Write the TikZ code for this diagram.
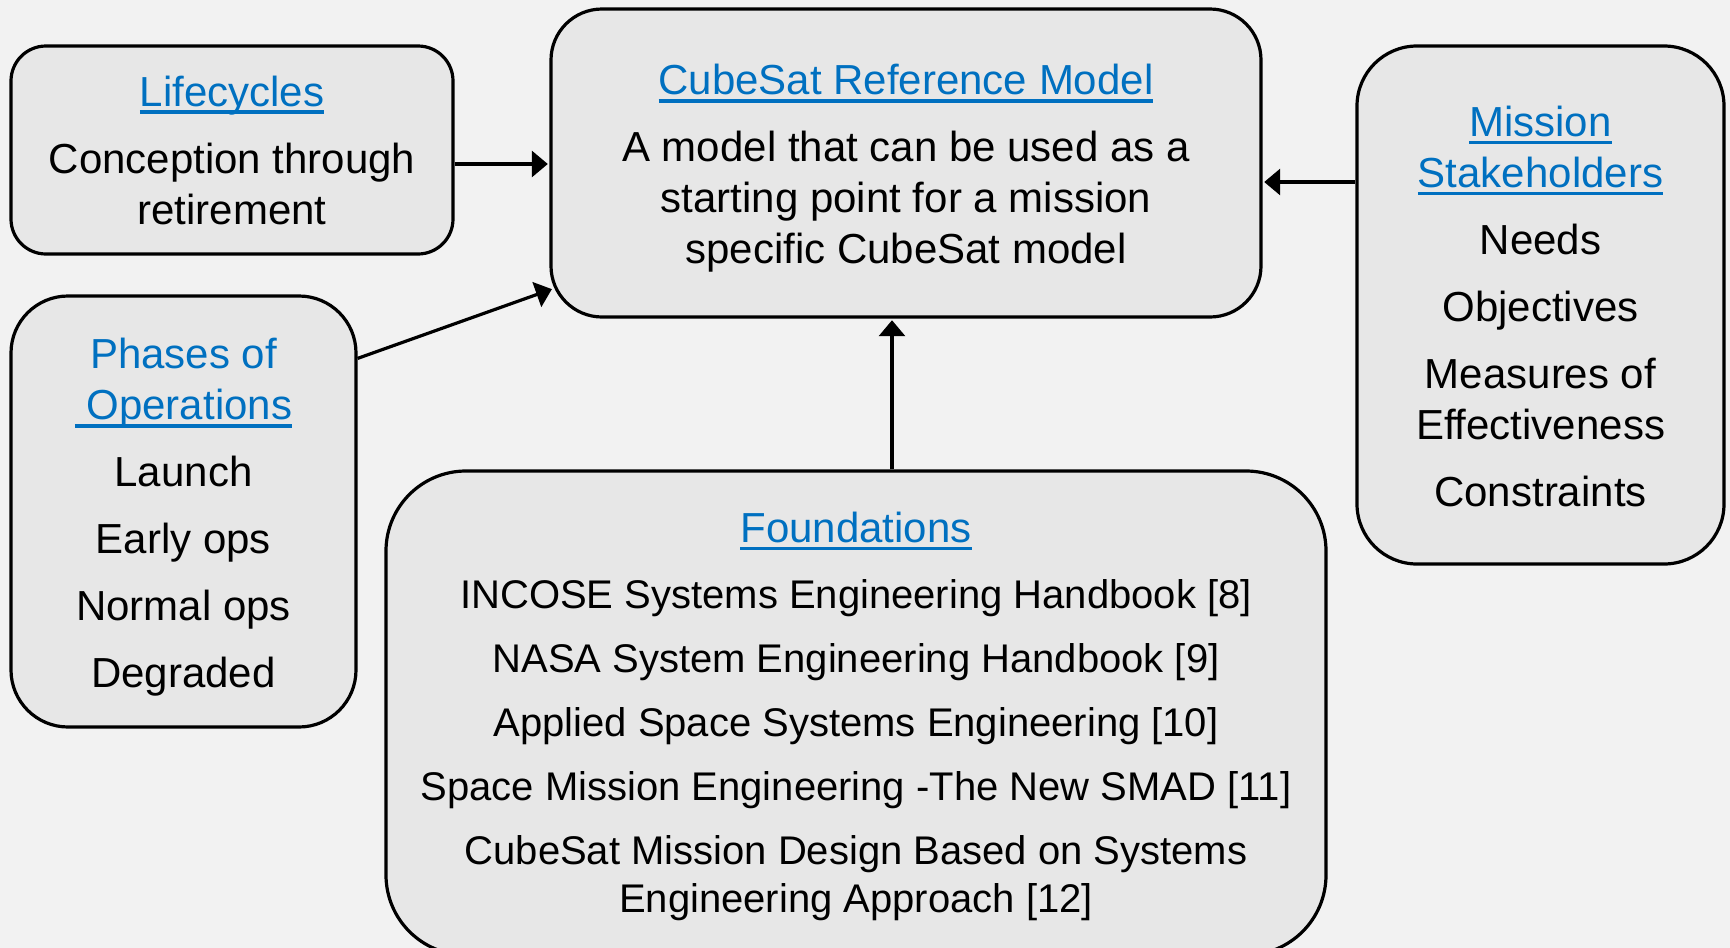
\documentclass[tikz,border=0pt]{standalone}
\usepackage{fontspec}
\setmainfont{Liberation Sans}
\usetikzlibrary{arrows.meta,calc}
\definecolor{bgcol}{HTML}{F2F2F2}
\definecolor{boxfill}{HTML}{E7E7E7}
\definecolor{linkblue}{HTML}{0070C0}
\newcommand{\lnk}[1]{{\color{linkblue}\setbox0=\hbox{#1}\rlap{\rule[-3.8pt]{\wd0}{1.6pt}}\box0}}
\newcommand{\bodyfont}{\fontsize{21pt}{25.5pt}\selectfont}
\newcommand{\fndfont}{\fontsize{20pt}{23.75pt}\selectfont}
\newcommand{\pushdn}[1]{\rule{0pt}{#1}}
\tikzset{
  box/.style={draw=black, line width=1.6pt, fill=boxfill, align=center,
    inner sep=0pt, font=\bodyfont, text=black},
  arr/.style={line width=1.6pt, draw=black, shorten >=0.8pt, -{Triangle[length=8pt,width=13pt]}}
}
\begin{document}
\begin{tikzpicture}[x=0.5pt,y=-0.5pt]
\path[use as bounding box, fill=bgcol] (0,0) rectangle (1730,948);

\node[box, minimum width=221pt, minimum height=104pt, rounded corners=17.5pt]
  (life) at (232,150)
  {\lnk{Lifecycles}\\[8pt]Conception through\\retirement};

\node[box, minimum width=355pt, minimum height=154pt, rounded corners=25.5pt]
  (cube) at (906,163)
  {\pushdn{20.8pt}\lnk{CubeSat Reference Model}\\[8pt]A model that can be used as a\\starting point for a mission\\specific CubeSat model};

\node[box, minimum width=183.5pt, minimum height=259pt, rounded corners=30pt]
  (miss) at (1540.5,305)
  {\pushdn{16.3pt}\lnk{Mission}\\\lnk{Stakeholders}\\[8pt]Needs\\[8pt]Objectives\\[8pt]Measures of\\Effectiveness\\[8pt]Constraints};

\node[box, minimum width=172.5pt, minimum height=215.5pt, rounded corners=28.5pt]
  (phase) at (183.5,511.5)
  {\pushdn{21.3pt}{\color{linkblue}Phases of}\\\lnk{\hspace*{.278em}Operations}\\[8pt]Launch\\[8pt]Early ops\\[8pt]Normal ops\\[8pt]Degraded};

\node[box, font=\fndfont, minimum width=470pt, minimum height=242pt, rounded corners=40pt]
  (found) at (856,713)
  {{\bodyfont\pushdn{18.6pt}\lnk{Foundations}}\\[9.25pt]INCOSE Systems Engineering Handbook [8]\\[8.25pt]NASA System Engineering Handbook [9]\\[8.25pt]Applied Space Systems Engineering [10]\\[8.25pt]Space Mission Engineering -The New SMAD [11]\\[8.25pt]CubeSat Mission Design Based on Systems\\Engineering Approach [12]};

\draw[arr] ([yshift=-0.5pt]life.east |- cube.west) -- ([yshift=-0.5pt]cube.west);
\draw[arr] ($(phase.north east)+(0,64)$) -- ($(cube.south west)+(4,-30)$);
\draw[arr] ([yshift=-9.5pt]cube.east -| miss.west) -- ([yshift=-9.5pt]cube.east);
\draw[arr] ([xshift=-7pt]cube.south |- found.north) -- ([xshift=-7pt]cube.south);
\end{tikzpicture}
\end{document}
